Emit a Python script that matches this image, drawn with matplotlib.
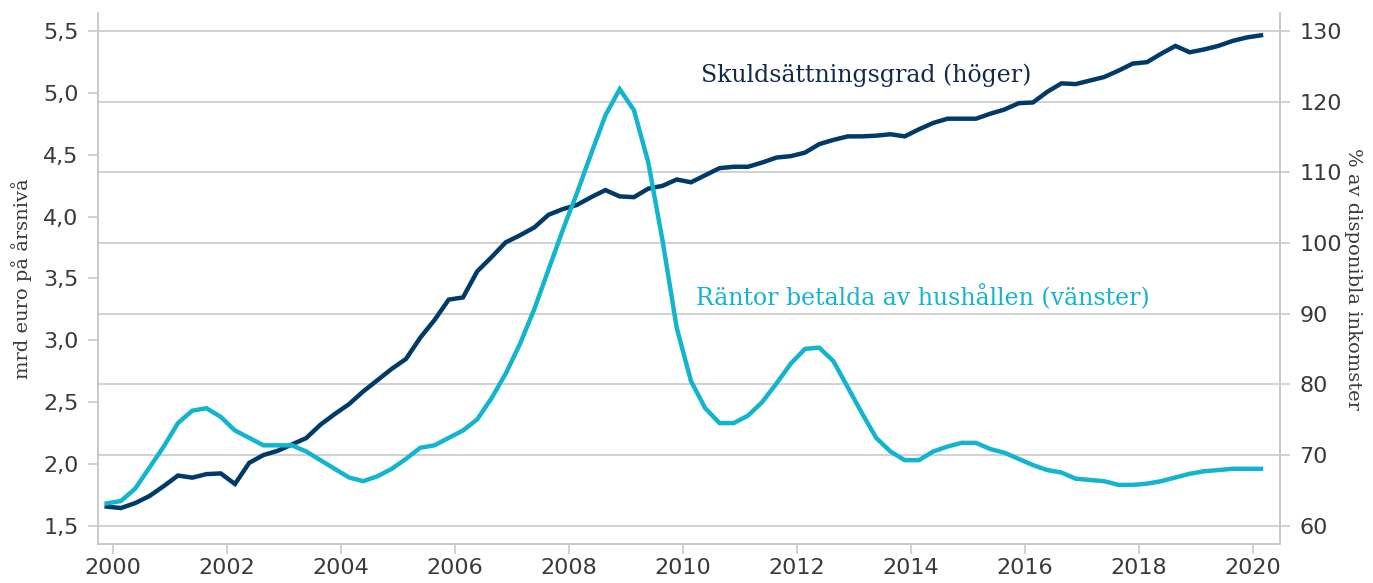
import numpy as np
import matplotlib.pyplot as plt

# Quarterly data, 2000Q1 -> 2020Q2
start_year = 2000

# Räntor betalda av hushållen, mrd euro på årsnivå (left axis)
rantor = [1.68, 1.70, 1.80, 1.97, 2.14, 2.33, 2.43, 2.45, 2.38, 2.27,
          2.21, 2.15, 2.15, 2.15, 2.10, 2.03, 1.96, 1.89, 1.86, 1.90,
          1.96, 2.04, 2.13, 2.15, 2.21, 2.27, 2.36, 2.53, 2.73, 2.97,
          3.25, 3.57, 3.89, 4.19, 4.51, 4.82, 5.03, 4.86, 4.44, 3.81,
          3.10, 2.67, 2.45, 2.33, 2.33, 2.39, 2.50, 2.65, 2.81, 2.93,
          2.94, 2.83, 2.62, 2.41, 2.21, 2.10, 2.03, 2.03, 2.10, 2.14,
          2.17, 2.17, 2.12, 2.09, 2.04, 1.99, 1.95, 1.93, 1.88, 1.87,
          1.86, 1.83, 1.83, 1.84, 1.86, 1.89, 1.92, 1.94, 1.95, 1.96,
          1.96, 1.96]

# Skuldsättningsgrad, % av disponibla inkomster (right axis)
skuld = [62.7, 62.5, 63.2, 64.2, 65.6, 67.1, 66.8, 67.3, 67.4, 65.9,
         68.9, 70.0, 70.6, 71.5, 72.4, 74.3, 75.8, 77.2, 79.0, 80.6,
         82.2, 83.6, 86.6, 89.1, 92.0, 92.3, 96.0, 98.0, 100.1, 101.1,
         102.2, 104.0, 104.8, 105.4, 106.5, 107.5, 106.6, 106.5, 107.7, 108.1,
         109.0, 108.6, 109.6, 110.6, 110.8, 110.8, 111.4, 112.1, 112.3, 112.8,
         114.0, 114.6, 115.1, 115.1, 115.2, 115.4, 115.1, 116.1, 117.0, 117.6,
         117.6, 117.6, 118.3, 118.9, 119.8, 119.9, 121.4, 122.6, 122.5, 123.0,
         123.5, 124.4, 125.4, 125.6, 126.8, 127.9, 127.0, 127.4, 127.9, 128.6,
         129.1, 129.4]

years = list(range(2000, 2021, 2))
left_ticks = [1.5, 2.0, 2.5, 3.0, 3.5, 4.0, 4.5, 5.0, 5.5]
right_ticks = [60, 70, 80, 90, 100, 110, 120, 130]

t = start_year + np.arange(len(skuld)) / 4

dark = '#003a68'
light = '#12b5cd'
grid_c = '#c9c9c9'
txt = '#3a3a3a'

fig = plt.figure(figsize=(13.73, 5.83), dpi=100)
ax = fig.add_axes([98/1373, 1-544/583, (1280-98)/1373, (544-13)/583])
ax2 = ax.twinx()

# right axis: debt ratio + gridlines
r_lim = (57.41, 132.56)
ax2.set_ylim(r_lim)
ax2.set_yticks(right_ticks)
ax2.set_yticklabels([str(v) for v in right_ticks])
ax2.grid(axis='y', color=grid_c, lw=1.2)
ax2.set_axisbelow(True)
ax2.plot(t, skuld, color=dark, lw=3.2, solid_joinstyle='miter')

# left axis: interest payments, drawn on top
ax.set_zorder(ax2.get_zorder() + 1)
ax.patch.set_visible(False)
ax.set_ylim(1.5 + (r_lim[0]-60)*4/70, 1.5 + (r_lim[1]-60)*4/70)
ax.set_yticks(left_ticks)
ax.set_yticklabels([('%.1f' % v).replace('.', ',') for v in left_ticks])
ax.plot(t, rantor, color=light, lw=3.2, solid_joinstyle='miter')

ax.set_xlim(1999.847, 2020.584)
ax.set_xticks([y + 0.11 for y in years])
ax.set_xticklabels([str(y) for y in years])

for a in (ax, ax2):
    for s in a.spines.values():
        s.set_color(grid_c)
        s.set_linewidth(1.2)
    a.spines['top'].set_visible(False)
    a.tick_params(colors=grid_c, labelcolor=txt, labelsize=16, length=7, width=1.2)
ax.tick_params(axis='y', pad=7)
ax.tick_params(axis='x', pad=3)
ax2.tick_params(axis='y', pad=7)

ax.set_ylabel('mrd euro på årsnivå', family='DejaVu Serif', fontsize=14,
              color=txt, labelpad=8)
ax2.set_ylabel('% av disponibla inkomster', family='DejaVu Serif', fontsize=14,
               color=txt, rotation=-90, labelpad=14)

ax.text(2013.32, 5.14, 'Skuldsättningsgrad (höger)', family='DejaVu Serif',
        fontsize=17, color='#13294b', ha='center', va='center')
ax.text(2014.31, 3.35, 'Räntor betalda av hushållen (vänster)', family='DejaVu Serif',
        fontsize=17, color=light, ha='center', va='center')

fig.savefig('out.png', dpi=100)
